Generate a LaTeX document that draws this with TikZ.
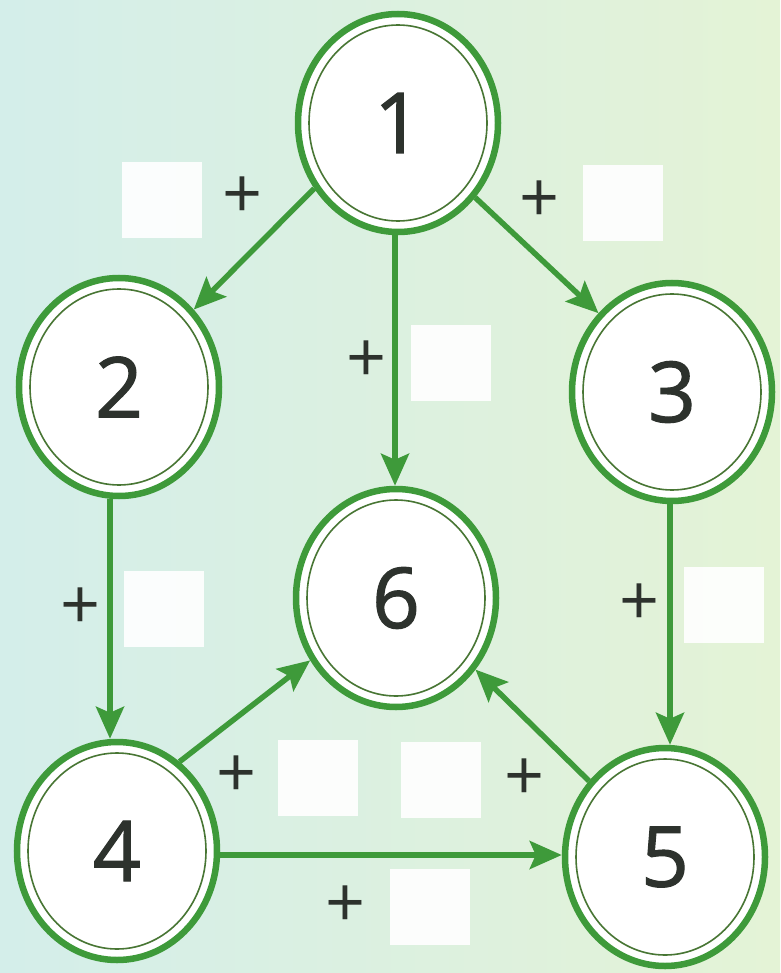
\documentclass[tikz,border=0pt]{standalone}
\usepackage{fontspec}
\setmainfont{Open Sans}
\newfontface\numface{Open Sans}[FakeBold=1.3]
\usetikzlibrary{arrows.meta,shapes.geometric}
\definecolor{gr}{RGB}{62,154,58}
\definecolor{grd}{RGB}{72,118,52}
\definecolor{bgl}{RGB}{212,238,234}
\definecolor{bgr}{RGB}{228,243,214}
\definecolor{txt}{RGB}{45,50,45}
\tikzset{
 numnode/.style={ellipse, draw=gr, line width=6.5pt, fill=white, minimum width=200pt, minimum height=218pt, inner sep=0pt, font=\numface\fontsize{84}{84}\selectfont, text=txt},
 innerring/.style={draw=grd, line width=1.6pt},
 conn/.style={draw=gr, line width=5.5pt, -{Stealth[length=32pt,width=28pt,inset=6pt]}},
 blank/.style={fill=white, draw=none, minimum width=80pt, minimum height=76pt, inner sep=0pt, opacity=0.92},
 plus/.style={text=txt, font=\fontsize{70}{70}\selectfont, inner sep=0pt}
}
\begin{document}
\begin{tikzpicture}[x=1pt,y=-1pt]
\fill[left color=bgl,right color=bgr] (0,0) rectangle (780,973);
\useasboundingbox (0,0) rectangle (780,973);
% blank boxes
\node[blank] (b1) at (162,200) {};
\node[blank] (b2) at (623,203) {};
\node[blank] (b3) at (451,363) {};
\node[blank] (b4) at (164,609) {};
\node[blank] (b5) at (724,605) {};
\node[blank] (b6) at (318,778) {};
\node[blank] (b7) at (441,780) {};
\node[blank] (b8) at (430,907) {};
% plus signs
\node[plus] (p1) at (243,198) {+};
\node[plus] (p2) at (540,202) {+};
\node[plus] (p3) at (367,362) {+};
\node[plus] (p4) at (81,609) {+};
\node[plus] (p5) at (640,605) {+};
\node[plus] (p6) at (237,777) {+};
\node[plus] (p7) at (525,780) {+};
\node[plus] (p8) at (346,907) {+};
% nodes
\node[numnode] (n1) at (398,123) {1};
\node[numnode] (n2) at (119,387) {2};
\node[numnode] (n3) at (672,392) {3};
\node[numnode] (n6) at (396,598) {6};
\node[numnode] (n4) at (117,851) {4};
\node[numnode] (n5) at (665,857) {5};
\foreach \n in {n1,n2,n3,n4,n5,n6}
  \draw[innerring] (\n.center) ellipse [x radius=89pt, y radius=98pt];
% connectors
\draw[conn] (n1.218) -- (n2.46);
\draw[conn] (n1.316) -- (n3.133);
\draw[conn] ([xshift=-3pt]n1.south) -- ([xshift=-1pt]n6.north);
\draw[conn] ([xshift=-9pt]n2.south) -- ([xshift=-7pt]n4.north);
\draw[conn] ([xshift=-2pt]n3.south) -- ([xshift=5pt]n5.north);
\draw[conn] (n4.55) -- (n6.216);
\draw[conn] (n5.135) -- (n6.318);
\draw[conn] ([yshift=-4pt]n4.east) -- ([yshift=2pt]n5.west);
\end{tikzpicture}
\end{document}
